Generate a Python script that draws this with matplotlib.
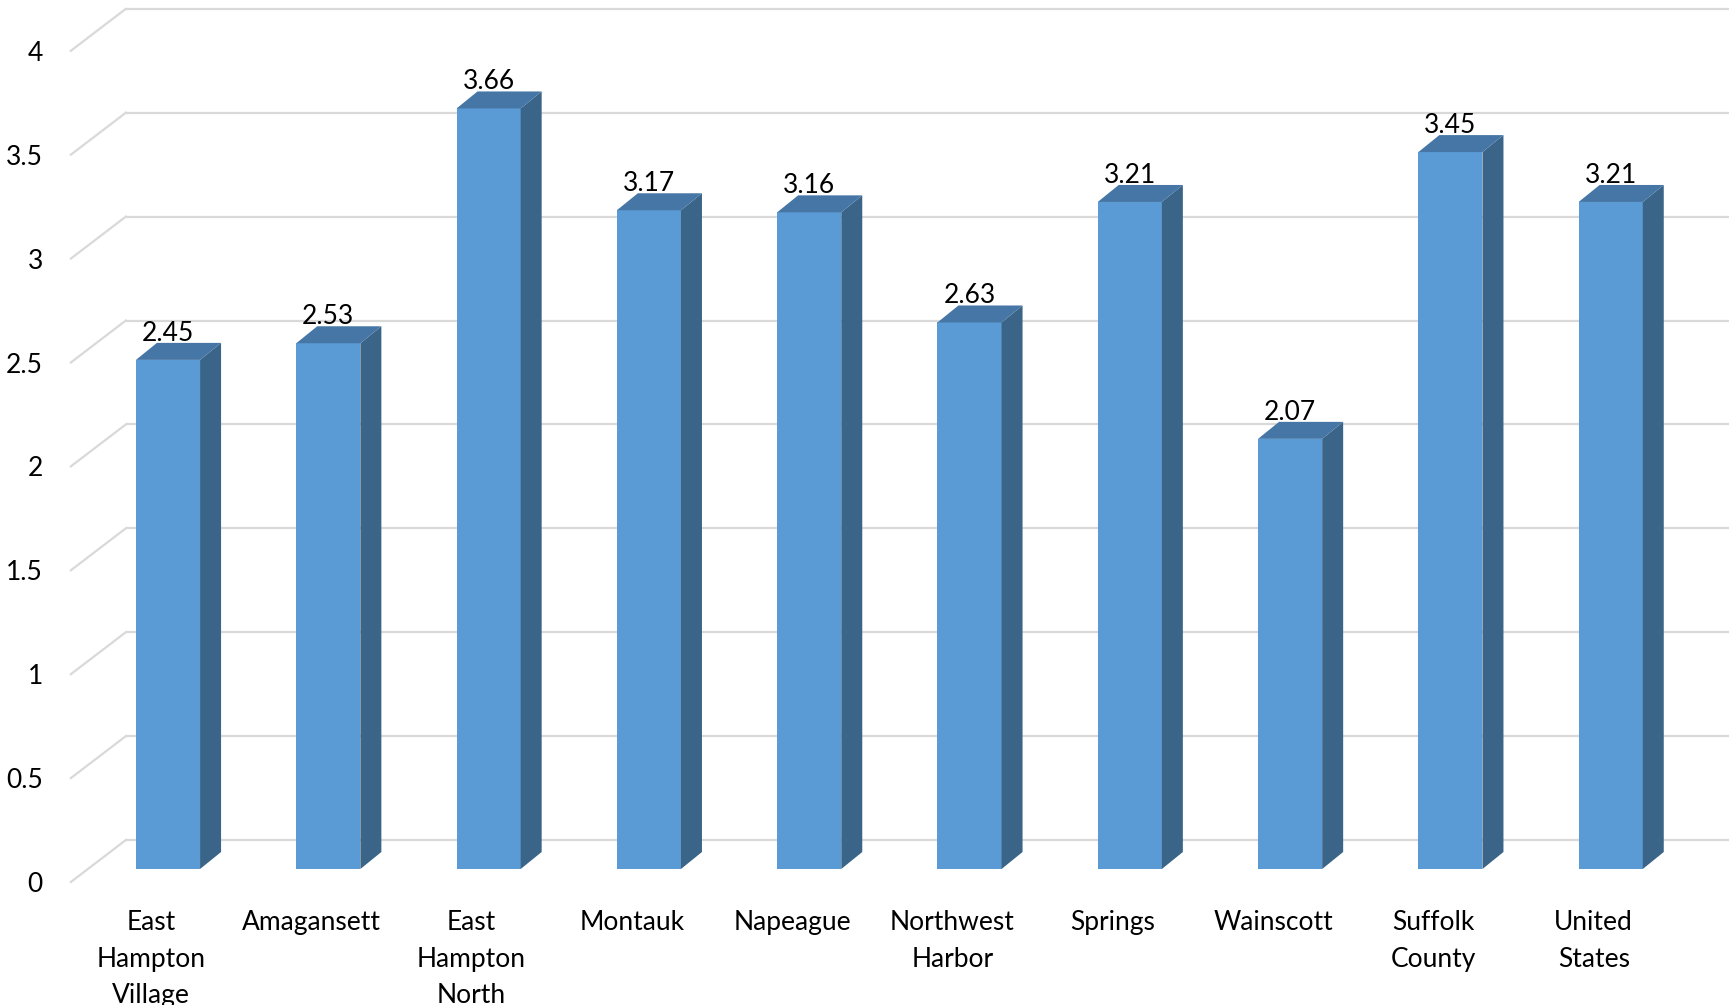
import matplotlib
matplotlib.use("Agg")
import matplotlib.pyplot as plt
from matplotlib.transforms import ScaledTranslation, IdentityTransform
from matplotlib.patches import Polygon
from matplotlib.lines import Line2D

categories = ["East\nHampton\nVillage", "Amagansett", "East\nHampton\nNorth", "Montauk",
              "Napeague", "Northwest\nHarbor", "Springs", "Wainscott",
              "Suffolk\nCounty", "United\nStates"]
values = [2.45, 2.53, 3.66, 3.17, 3.16, 2.63, 3.21, 2.07, 3.45, 3.21]
yticks = [0, 0.5, 1, 1.5, 2, 2.5, 3, 3.5, 4]
ytick_labels = ["0", "0.5", "1", "1.5", "2", "2.5", "3", "3.5", "4"]

FRONT_COLOR = "#5B9BD5"
TOP_COLOR = "#4676A5"
SIDE_COLOR = "#3A6488"
GRID_COLOR = "#D9D9D9"
FONT = "Lato"
FS = 19

W, H, DPI = 1732, 1005, 100
fig = plt.figure(figsize=(W / DPI, H / DPI), dpi=DPI)
ax = fig.add_axes([0, 0, 1, 1])
ax.set_axis_off()

# bar front plane mapping (pixels)
x0_px, step_px = 168.0, 160.3
y0_px, unit_px = H - 869.0, 207.8
ax.set_xlim(-x0_px / step_px, (W - x0_px) / step_px)
ax.set_ylim(-y0_px / unit_px, (H - y0_px) / unit_px)


def off(dx, dy):
    return ax.transData + ScaledTranslation(dx / DPI, dy / DPI, fig.dpi_scale_trans)


front = off(-17, -13)   # front edge of floor
back = off(38, 29)      # back wall
depth = off(21, 17)     # back face of bars
n = len(values)
xl, xr = -0.5, n - 0.5

# gridlines: back wall + diagonal on left side wall
for v in yticks:
    p1 = front.transform((xl, v))
    p2 = back.transform((xl, v))
    ax.add_line(Line2D([p1[0], p2[0]], [p1[1], p2[1]], transform=IdentityTransform(),
                       color=GRID_COLOR, lw=1.6, zorder=1))
    ax.plot([xl, xr], [v, v], transform=back, color=GRID_COLOR, lw=1.6, zorder=1,
            solid_capstyle="butt")

for v, lab in zip(yticks, ytick_labels):
    ax.text(xl, v, lab, transform=off(-17 - 28, -13 - 10), ha="right", va="baseline",
            fontsize=FS, family=FONT, color="black")

w = 0.4
ax.bar(range(n), values, width=w, color=FRONT_COLOR, zorder=3, linewidth=0)
for i, v in enumerate(values):
    a = ax.transData.transform((i + w / 2, 0))
    b = ax.transData.transform((i + w / 2, v))
    c = depth.transform((i + w / 2, v))
    d = depth.transform((i + w / 2, 0))
    ax.add_patch(Polygon([a, b, c, d], closed=True, transform=IdentityTransform(),
                         facecolor=SIDE_COLOR, edgecolor="none", zorder=3))
    e = ax.transData.transform((i - w / 2, v))
    f = depth.transform((i - w / 2, v))
    ax.add_patch(Polygon([e, b, c, f], closed=True, transform=IdentityTransform(),
                         facecolor=TOP_COLOR, edgecolor="none", zorder=3))
    ax.text(i, v, f"{v:.2f}", transform=off(0, 19), ha="center", va="baseline",
            fontsize=FS, family=FONT, color="black", zorder=4)

for i, cat in enumerate(categories):
    for k, line in enumerate(cat.split("\n")):
        ax.text(i, 0, line, transform=off(-17, -13 - 48 - 36.5 * k), ha="center",
                va="baseline", fontsize=FS, family=FONT, color="black")

fig.savefig("out.png", dpi=DPI, facecolor="white")
